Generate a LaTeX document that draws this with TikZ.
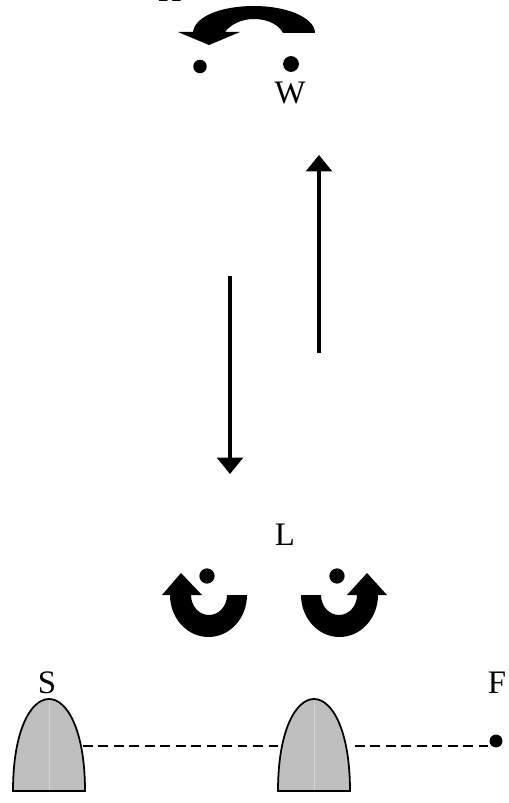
\documentclass[tikz,border=0pt]{standalone}
\usepackage{fontspec}
\setmainfont{Liberation Serif}
\usetikzlibrary{arrows.meta}
\tikzset{
  label text/.style={inner sep=0pt, font=\fontsize{28}{32}\selectfont},
  dot/.style={circle, fill=black, inner sep=0pt},
  long arrow/.style={line width=2.8pt, -{Triangle[length=14pt,width=22pt]}},
  dome/.style={draw=black, line width=1.5pt, fill=black!25, line join=miter},
  beam/.style={line width=1.3pt, dash pattern=on 8.3pt off 4.9pt}
}
\begin{document}
\begin{tikzpicture}[x=0.3mm, y=-0.3mm]
    \useasboundingbox (0,0) rectangle (508,803);
    % top
    \begin{scope}
      \clip (0,0) rectangle (508,803);
      \node[label text, anchor=base] (H) at (170,1.5) {H};
    \end{scope}
    \fill[black] (315,33) arc (0:-90:61 and 27) .. controls (222,6) and (195,16) .. (193,32)
      -- (178,32) -- (209,45) -- (240,32) -- (225,32)
      .. controls (231,24) and (242,19) .. (254,19) .. controls (268,19) and (279,25) .. (283,33) -- cycle;
    \node[dot, minimum size=11.5pt] (Wdot) at (200,66.5) {};
    \node[dot, minimum size=13.5pt] (W) at (291,64) {};
    \node[label text, anchor=base] (Wtext) at (290,103) {W};
    % travel
    \coordinate (upA) at (319,353);
    \coordinate (upB) at (319,155);
    \coordinate (downA) at (230,276);
    \coordinate (downB) at (230,474);
    \draw[long arrow] (upA) -- (upB);
    \draw[long arrow] (downA) -- (downB);
    % lower
    \node[label text, anchor=base] (L) at (285,545) {L};
    \node[dot, minimum size=13pt] (Ldot) at (207,576) {};
    \node[dot, minimum size=13pt] (Rdot) at (337,576) {};
    \fill[black] (247,595) arc (0:180:38.5 and 42) -- (162,595) -- (181,573) -- (202,595) -- (191,595)
      arc (180:0:18 and 20) -- cycle;
    \fill[black] (301,595) arc (180:0:38.5 and 42) -- (387,595) -- (367,573) -- (347,595) -- (357,595)
      arc (0:180:18 and 20) -- cycle;
    % domes
    \foreach \xc/\name in {49/domeA, 314/domeB} {
      \path[dome] (\xc-36,791) .. controls (\xc-36,730) and (\xc-18,699) .. (\xc,699)
        .. controls (\xc+18,699) and (\xc+36,730) .. (\xc+36,791) -- cycle;
      \draw[black!17, line width=0.4pt] (\xc,700) -- (\xc,790);
    }
    \node[label text, anchor=base] (S) at (47,693) {S};
    \node[label text, anchor=base] (F) at (497,693) {F};
    \node[dot, minimum size=11pt] (Fdot) at (496,741) {};
    \coordinate (gapA) at (83,746);
    \coordinate (gapB) at (282,746);
    \coordinate (gapC) at (355,746);
    \coordinate (gapD) at (490,746);
    \draw[beam] (gapA) -- (gapB);
    \draw[beam] (gapC) -- (gapD);
\end{tikzpicture}
\end{document}
